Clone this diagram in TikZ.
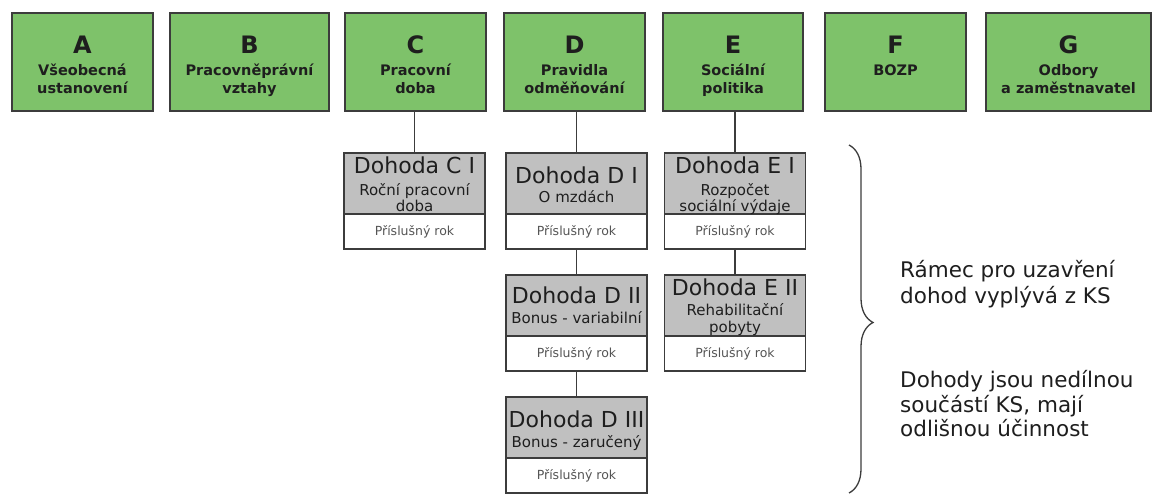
\documentclass[tikz,border=0pt]{standalone}
\usepackage{fontspec}
\setmainfont{DejaVu Sans}
\usetikzlibrary{decorations.pathreplacing}
\definecolor{gfill}{RGB}{126,194,106}
\definecolor{gline}{RGB}{60,60,60}
\definecolor{afill}{RGB}{192,192,192}
\definecolor{txt}{RGB}{30,30,30}
\definecolor{smalltxt}{RGB}{85,85,85}
\newcommand\gbx[6]{%
  \node[gbox, minimum width={(#3-#2)*1pt}] (#1) at ({(#2+#3)/2},62) {};
  \node[letter] (#1l) at ({(#2+#3)/2},53) {#4};
  \node[gsub] (#1a) at ({(#2+#3)/2},75) {#5};
  \node[gsub] (#1b) at ({(#2+#3)/2},93) {#6};
}
\begin{document}
\begin{tikzpicture}[x=1pt,y=-1pt,
  gbox/.style={draw=gline, fill=gfill, line width=1.4pt, inner sep=0pt, minimum height=98pt},
  letter/.style={font=\fontsize{24}{26}\selectfont\bfseries, text=txt, anchor=base, inner sep=0pt},
  gsub/.style={font=\fontsize{14.5}{18}\selectfont\bfseries, text=txt, anchor=base, inner sep=0pt},
  abox/.style={draw=gline, fill=afill, line width=1.2pt, inner sep=0pt, minimum width=141pt, minimum height=61pt},
  rbox/.style={draw=gline, fill=white, line width=1.2pt, inner sep=0pt, minimum width=141pt, minimum height=35pt, font=\fontsize{12.5}{14}\selectfont, text=smalltxt},
  atitle/.style={font=\fontsize{22}{24}\selectfont, text=txt, anchor=base, inner sep=0pt},
  asub/.style={font=\fontsize{15}{16}\selectfont, text=txt, anchor=base, inner sep=0pt},
  conn/.style={draw=gline, line width=1.4pt},
  note/.style={font=\fontsize{21.5}{26}\selectfont, text=txt, anchor=base west, inner sep=0pt}
]
\useasboundingbox (0,0) rectangle (1153,495);
\fill[white] (0,0) rectangle (1153,495);

% top green boxes
\gbx{A}{12}{153}{A}{Všeobecná}{ustanovení}
\gbx{B}{170}{329}{B}{Pracovněprávní}{vztahy}
\gbx{C}{345}{486}{C}{Pracovní}{doba}
\gbx{D}{504}{645}{D}{Pravidla}{odměňování}
\gbx{E}{663}{803}{E}{Sociální}{politika}
\gbx{F}{825}{966}{F}{BOZP}{}
\gbx{G}{986}{1151}{G}{Odbory}{a zaměstnavatel}

% agreement boxes
\node[rbox] (cir) at (414.5,231.5) {Příslušný rok};
\node[abox] (ci) at (414.5,183.5) {};
\node[rbox] (dir) at (576.5,231.5) {Příslušný rok};
\node[abox] (di) at (576.5,183.5) {};
\node[rbox] (eir) at (735,231.5) {Příslušný rok};
\node[abox] (ei) at (735,183.5) {};
\node[rbox] (diir) at (576.5,353.5) {Příslušný rok};
\node[abox] (dii) at (576.5,305.5) {};
\node[rbox] (eiir) at (735,353.5) {Příslušný rok};
\node[abox] (eii) at (735,305.5) {};
\node[rbox] (diiir) at (576.5,475.5) {Příslušný rok};
\node[abox] (diii) at (576.5,427.5) {};

% agreement texts
\node[atitle] (ciT) at (414.5,173) {Dohoda C I};
\node[asub] (ciA) at (414.5,195) {Roční pracovní};
\node[asub] (ciB) at (414.5,211) {doba};
\node[atitle] (diT) at (576.5,183) {Dohoda D I};
\node[asub] (diA) at (576.5,202) {O mzdách};
\node[atitle] (eiT) at (735,173) {Dohoda E I};
\node[asub] (eiA) at (735,195) {Rozpočet};
\node[asub] (eiB) at (735,211) {sociální výdaje};
\node[atitle] (diiT) at (576.5,303) {Dohoda D II};
\node[asub] (diiA) at (576.5,323) {Bonus - variabilní};
\node[atitle] (eiiT) at (735,295) {Dohoda E II};
\node[asub] (eiiA) at (735,315) {Rehabilitační};
\node[asub] (eiiB) at (735,332) {pobyty};
\node[atitle] (diiiT) at (576.5,427) {Dohoda D III};
\node[asub] (diiiA) at (576.5,447) {Bonus - zaručený};

% connectors
\draw[conn] (ci.north) -- (ci.north |- C.south);
\draw[conn] (di.north) -- (di.north |- D.south);
\draw[conn] (ei.north) -- (ei.north |- E.south);
\draw[conn] (dir.south) -- (dii.north);
\draw[conn] (diir.south) -- (diii.north);
\draw[conn] (eir.south) -- (eii.north);

% brace
\draw[gline, line width=1.3pt, decorate, decoration={brace, amplitude=24pt, aspect=0.51}] (849,145) -- (849,493);

% notes
\node[note] (n1a) at (900,277) {Rámec pro uzavření};
\node[note] (n1b) at (900,303) {dohod vyplývá z KS};
\node[note] (n2a) at (900,387) {Dohody jsou nedílnou};
\node[note] (n2b) at (900,412) {součástí KS, mají};
\node[note] (n2c) at (900,436) {odlišnou účinnost};
\end{tikzpicture}
\end{document}
